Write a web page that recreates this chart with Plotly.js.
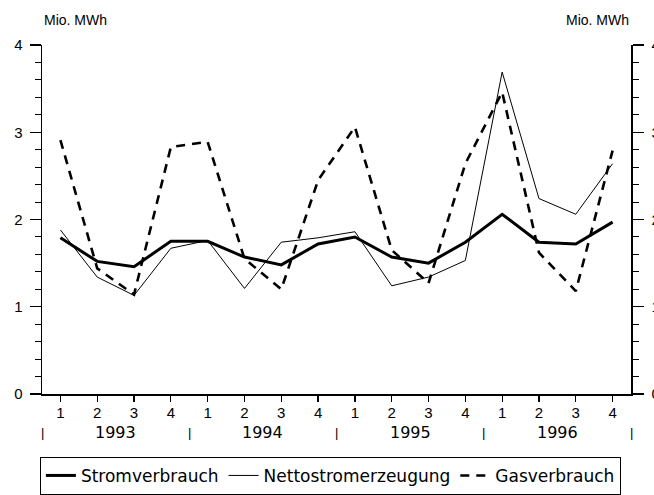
<!DOCTYPE html>
<html>
<head>
<meta charset="utf-8">
<script src="https://cdn.plot.ly/plotly-3.0.1.min.js"></script>
<style>
html,body{margin:0;padding:0;background:#fff;}
#chart{width:654px;height:495px;}
</style>
</head>
<body>
<div id="chart"></div>
<script>
// Data
const quarterLabels = ['1','2','3','4','1','2','3','4','1','2','3','4','1','2','3','4'];
const years = ['1993','1994','1995','1996'];
const stromverbrauch = [1.79,1.52,1.46,1.75,1.75,1.57,1.48,1.72,1.80,1.57,1.50,1.74,2.06,1.74,1.72,1.97];
const nettostromerzeugung = [1.88,1.34,1.13,1.67,1.76,1.21,1.74,1.79,1.86,1.24,1.34,1.53,3.69,2.24,2.06,2.64];
const gasverbrauch = [2.91,1.44,1.14,2.83,2.89,1.55,1.20,2.45,3.06,1.65,1.27,2.64,3.46,1.62,1.18,2.79];
const seriesNames = ['Stromverbrauch','Nettostromerzeugung','Gasverbrauch'];
const unitLabel = 'Mio. MWh';

const xIdx = quarterLabels.map((_, i) => i);
const FONT = 'Liberation Sans, Arial, Helvetica, sans-serif';
const WIDEFONT = 'DejaVu Sans, Verdana, sans-serif';

const traces = [
  {x: xIdx, y: stromverbrauch, name: seriesNames[0], mode: 'lines',
   line: {color: '#000', width: 3}},
  {x: xIdx, y: nettostromerzeugung, name: seriesNames[1], mode: 'lines',
   line: {color: '#000', width: 1}},
  {x: xIdx, y: gasverbrauch, name: seriesNames[2], mode: 'lines',
   line: {color: '#000', width: 2.6, dash: '9px,7px'}},
  // empty helper trace so the right-hand axis is drawn
  {x: [], y: [], yaxis: 'y2', showlegend: false, hoverinfo: 'skip', mode: 'lines'}
];

const annotations = [];
years.forEach((yr, i) => {
  annotations.push({x: i*4 + 1.5, xref: 'x', y: -0.11, yref: 'paper', yanchor: 'middle',
    text: yr, showarrow: false, font: {family: WIDEFONT, size: 16, color: '#000'}});
});
for (let i = 0; i <= years.length; i++) {
  annotations.push({x: i*4 - 0.5, xref: 'x', y: -0.11, yref: 'paper', yanchor: 'middle',
    text: '|', showarrow: false, font: {family: FONT, size: 13, color: '#000'}});
}
annotations.push({x: 0, xref: 'paper', y: 1.072, yref: 'paper', xanchor: 'left', yanchor: 'middle',
  text: unitLabel, showarrow: false, font: {family: FONT, size: 14, color: '#000'}});
annotations.push({x: 1, xref: 'paper', y: 1.072, yref: 'paper', xanchor: 'right', yanchor: 'middle',
  text: unitLabel, showarrow: false, font: {family: FONT, size: 14, color: '#000'}});

const yCommon = {
  range: [0, 4], dtick: 1, tick0: 0,
  showline: true, linecolor: '#000', linewidth: 1.5,
  ticks: 'outside', ticklen: 11, tickwidth: 1.2, tickcolor: '#000',
  minor: {dtick: 0.2, ticks: 'outside', ticklen: 6, tickwidth: 1, tickcolor: '#000'},
  showgrid: false, zeroline: false,
  ticklabelstandoff: 4,
  tickfont: {family: FONT, size: 15, color: '#000'}
};

const layout = {
  width: 654, height: 495,
  margin: {l: 42, r: 23, t: 45, b: 101},
  paper_bgcolor: '#fff', plot_bgcolor: '#fff',
  showlegend: true,
  legend: {orientation: 'h', xref: 'container', yref: 'container',
    x: 0.061, xanchor: 'left', y: 0.077, yanchor: 'top',
    bordercolor: '#000', borderwidth: 1, font: {family: WIDEFONT, size: 17, color: '#000'},
    itemwidth: 30},
  xaxis: {
    range: [-0.5, 15.5], tickvals: xIdx, ticktext: quarterLabels,
    showline: true, linecolor: '#000', linewidth: 1.5,
    ticks: 'outside', ticklen: 6, tickwidth: 1.2, tickcolor: '#000',
    ticklabelstandoff: -2,
    showgrid: false, zeroline: false,
    tickfont: {family: FONT, size: 15, color: '#000'}
  },
  yaxis: Object.assign({}, yCommon),
  yaxis2: Object.assign({}, yCommon, {overlaying: 'y', side: 'right', ticklabelstandoff: 5}),
  annotations: annotations
};

Plotly.newPlot('chart', traces, layout, {displayModeBar: false, staticPlot: true});
</script>
</body>
</html>
